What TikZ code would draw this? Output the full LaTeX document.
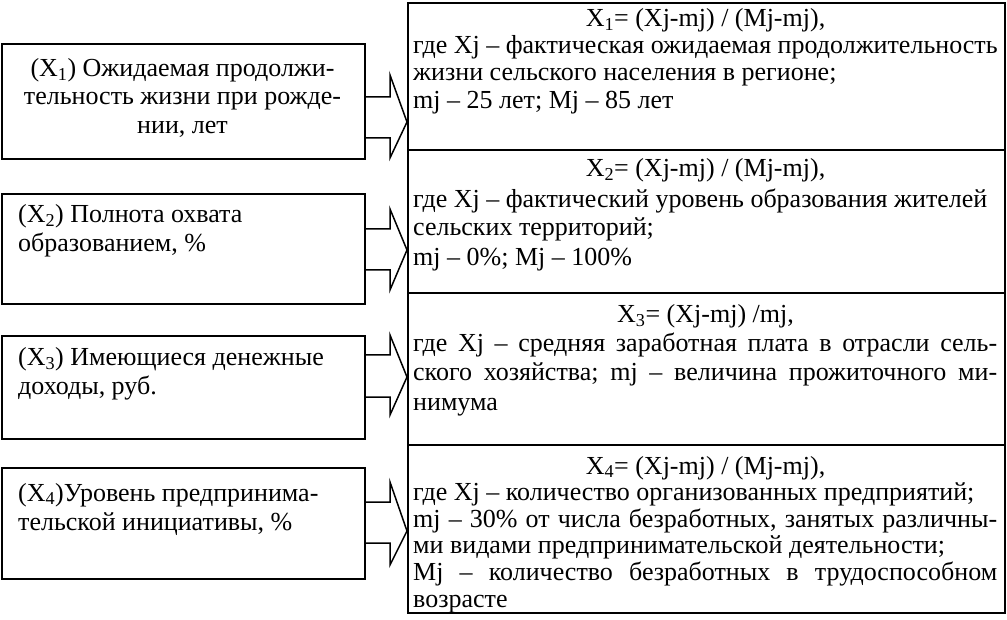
\documentclass[tikz,border=0pt]{standalone}
\usepackage{fontspec}
\setmainfont{Liberation Serif}
\frenchspacing
\newcommand{\blockarr}[7]{%
  \draw[barrow] (#1.east |- 0,#3) -- (390,#3) -- (390,#5) -- (#2.west |- 0,#7)
    -- (390,#6) -- (390,#4) -- (#1.east |- 0,#4);}
\begin{document}
\begin{tikzpicture}[x=1pt,y=-1pt,
  box/.style={draw, line width=1.8pt, inner sep=0pt, anchor=north west},
  txt/.style={anchor=base west, inner sep=0pt, font=\fontsize{26}{30}\selectfont},
  ctxt/.style={anchor=base, inner sep=0pt, font=\fontsize{26}{30}\selectfont},
  barrow/.style={draw, line width=1.5pt, line join=miter}]
\useasboundingbox (0,0) rectangle (1007,620);
% left boxes
\node[box, minimum width=363pt, minimum height=115pt] (L1) at (1,43) {};
\node[box, minimum width=363pt, minimum height=110pt] (L2) at (1,193) {};
\node[box, minimum width=363pt, minimum height=103pt] (L3) at (1,335) {};
\node[box, minimum width=363pt, minimum height=111pt] (L4) at (1,467) {};
% right boxes
\node[box, minimum width=597pt, minimum height=147pt] (R1) at (407,2) {};
\node[box, minimum width=597pt, minimum height=143pt] (R2) at (407,149) {};
\node[box, minimum width=597pt, minimum height=152pt] (R3) at (407,292) {};
\node[box, minimum width=597pt, minimum height=168pt] (R4) at (407,444) {};
% arrows
\blockarr{L1}{R1}{97}{138}{75}{158}{122}
\blockarr{L2}{R2}{229}{270}{209}{290}{250}
\blockarr{L3}{R3}{355}{397}{335}{415}{377}
\blockarr{L4}{R4}{502}{543}{482}{565}{531}
% left texts
\node[ctxt] (l1a) at (182.5,77) {(X\textsubscript{1}) Ожидаемая продолжи-};
\node[ctxt] (l1b) at (182.5,105) {тельность жизни при рожде-};
\node[ctxt] (l1c) at (182.5,134) {нии, лет};
\node[txt] (l2a) at (18,223) {(X\textsubscript{2}) Полнота охвата};
\node[txt] (l2b) at (18,252) {образованием, \%};
\node[txt] (l3a) at (18,366) {(X\textsubscript{3}) Имеющиеся денежные};
\node[txt] (l3b) at (18,395) {доходы, руб.};
\node[txt] (l4a) at (18,501) {(X\textsubscript{4})Уровень предпринима-};
\node[txt] (l4b) at (18,530) {тельской инициативы, \%};
% right texts
\node[ctxt] (r1a) at (705.5,27) {X\textsubscript{1}= (Xj-mj) / (Mj-mj),};
\node[txt] (r1b) at (413,54) {где Xj – фактическая ожидаемая продолжительность};
\node[txt] (r1c) at (413,81) {жизни сельского населения в регионе;};
\node[txt] (r1d) at (413,109) {mj – 25 лет; Mj – 85 лет};
\node[ctxt] (r2a) at (705.5,177) {X\textsubscript{2}= (Xj-mj) / (Mj-mj),};
\node[txt] (r2b) at (413,208) {где Xj – фактический уровень образования жителей};
\node[txt] (r2c) at (413,236) {сельских территорий;};
\node[txt] (r2d) at (413,266) {mj – 0\%; Mj – 100\%};
\node[ctxt] (r3a) at (705.5,323) {X\textsubscript{3}= (Xj-mj) /mj,};
\node[txt] (r3b) at (413,352) {\makebox[584pt][s]{где Xj – средняя заработная плата в отрасли сель-}};
\node[txt] (r3c) at (413,381) {\makebox[584pt][s]{ского хозяйства; mj – величина прожиточного ми-}};
\node[txt] (r3d) at (413,410) {нимума};
\node[ctxt] (r4a) at (705.5,474) {X\textsubscript{4}= (Xj-mj) / (Mj-mj),};
\node[txt] (r4b) at (413,500.6) {где Xj – количество организованных предприятий;};
\node[txt] (r4c) at (413,527.2) {\makebox[584pt][s]{mj – 30\% от числа безработных, занятых различны-}};
\node[txt] (r4d) at (413,553.8) {ми видами предпринимательской деятельности;};
\node[txt] (r4e) at (413,580.4) {\makebox[584pt][s]{Mj – количество безработных в трудоспособном}};
\node[txt] (r4f) at (413,607) {возрасте};
\end{tikzpicture}
\end{document}
